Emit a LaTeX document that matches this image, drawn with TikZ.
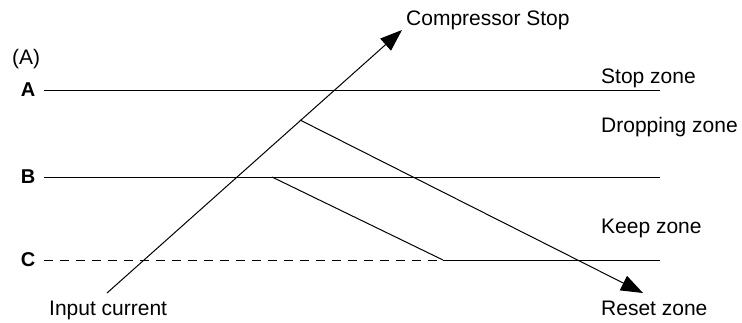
\documentclass[tikz,border=0pt]{standalone}
\usepackage{fontspec}
\setmainfont{Liberation Sans}
\usetikzlibrary{arrows.meta, positioning}
\tikzset{
	zonetxt/.style={anchor=base west, inner sep=0pt, font=\fontsize{21}{24}\selectfont},
	lvltxt/.style ={inner sep=0pt, font=\fontsize{20}{22}\selectfont\bfseries},
	lvlline/.style={line width=1pt},
	cutline/.style={line width=1pt, dash pattern=on 9pt off 7pt},
	% current / reset arrows
	curarrow/.style={line width=1pt, -{Triangle[length=22pt, width=16pt]}},
}

\begin{document}
\begin{tikzpicture}[x=1pt, y=-1pt]
	\useasboundingbox (0,0) rectangle (742,322);
	\node[zonetxt] (hdr) at (12,64) {(A)};
	\foreach \n/\y in {A/90,B/177,C/260}{
		\node[lvltxt] (l\n) at (28,\y) {\n};
		\coordinate (\n0) at (44,\y);
		\coordinate (\n1) at (660,\y);
	}
	\coordinate (in0) at (107,293);
	\coordinate (in1) at (402,30);
	\coordinate (dr0) at (300,120);
	\coordinate (dr1) at (643,293);
	\coordinate (kp0) at (272,177);
	\coordinate (kp1) at (443,260);
	\draw[lvlline] (A0) -- (A1);
	\draw[lvlline] (B0) -- (B1);
	\draw[cutline] (C0) -- (kp1);
	\draw[lvlline] (kp1) -- (C1);
	\draw[curarrow] (in0) -- (in1);
	\draw[curarrow] (dr0) -- (dr1);
	\draw[lvlline] (kp0) -- (kp1);
	\node[zonetxt] (cstop) at (406,25) {Compressor Stop};
	\node[zonetxt] (incur) at (49,315) {Input current};
	\node[zonetxt] (zstop) at (601,83) {Stop zone};
	\node[zonetxt] (zdrop) at (601,132) {Dropping zone};
	\node[zonetxt] (zkeep) at (601,233) {Keep zone};
	\node[zonetxt] (zrst) at (601,315) {Reset zone};
\end{tikzpicture}
\end{document}
